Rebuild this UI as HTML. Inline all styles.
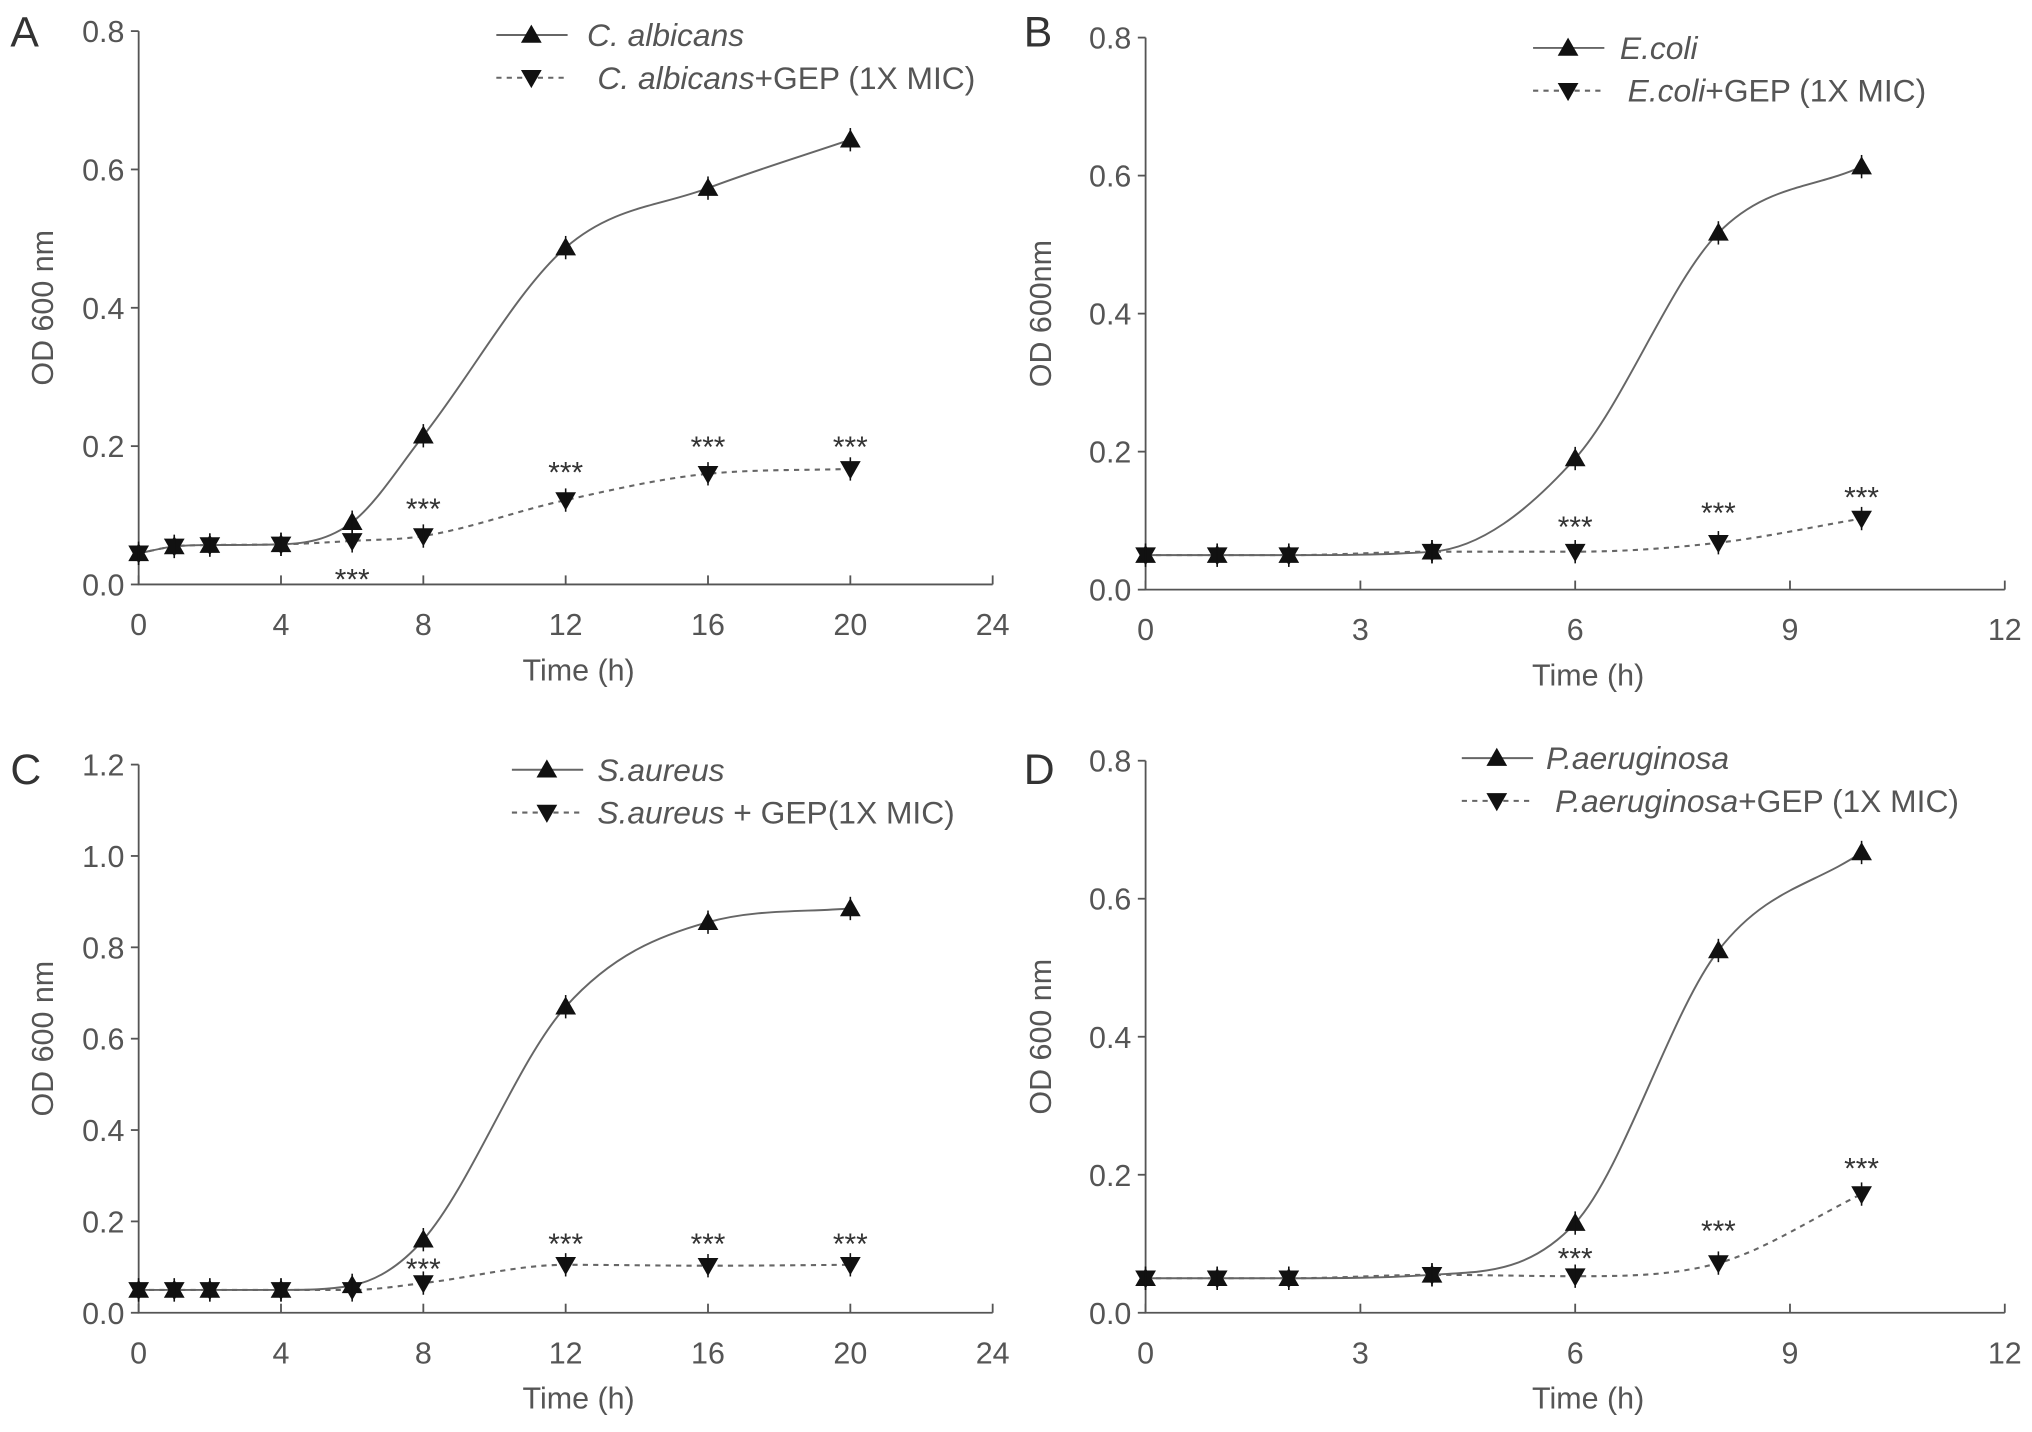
<!DOCTYPE html>
<html><head><meta charset="utf-8"><style>
html,body{margin:0;padding:0;background:#fff}
svg{display:block}
text{font-family:"Liberation Sans",sans-serif;fill:#555}
</style></head><body>
<svg id="fig" width="2032" height="1432" viewBox="0 0 1568 1105" xmlns="http://www.w3.org/2000/svg"></svg>
<script>
// Panel A data
const xA = [0,1,2,4,6,8,12,16,20];
const ctrlA = [0.045,0.055,0.057,0.058,0.09,0.215,0.487,0.573,0.643];
const gepA = [0.045,0.055,0.057,0.058,0.063,0.07,0.122,0.16,0.167];
const starsA = [[6,0.013],[8,0.115],[12,0.168],[16,0.205],[20,0.205]];
// Panel B data
const xB = [0,1,2,4,6,8,10];
const ctrlB = [0.05,0.05,0.05,0.055,0.19,0.517,0.613];
const gepB = [0.05,0.05,0.05,0.055,0.055,0.068,0.103];
const starsB = [[6,0.097],[8,0.117],[10,0.14]];
// Panel C data
const xC = [0,1,2,4,6,8,12,16,20];
const ctrlC = [0.05,0.05,0.05,0.05,0.06,0.16,0.67,0.855,0.885];
const gepC = [0.05,0.05,0.05,0.05,0.05,0.065,0.105,0.103,0.105];
const starsC = [[8,0.105],[12,0.16],[16,0.16],[20,0.16]];
// Panel D data
const xD = [0,1,2,4,6,8,10];
const ctrlD = [0.05,0.05,0.05,0.055,0.13,0.525,0.667];
const gepD = [0.05,0.05,0.05,0.055,0.053,0.072,0.172];
const starsD = [[6,0.085],[8,0.125],[10,0.215]];
// Tick labels
const xTicks24 = [0,4,8,12,16,20,24];
const xTicks12 = [0,3,6,9,12];
const yTicks08 = [0,0.2,0.4,0.6,0.8];
const yTicks12 = [0,0.2,0.4,0.6,0.8,1.0,1.2];

const NS = "http://www.w3.org/2000/svg";
const svg = document.getElementById('fig');
function mk(tag, attrs, parent){
  const e = document.createElementNS(NS, tag);
  for (const k in attrs) e.setAttribute(k, attrs[k]);
  (parent||svg).appendChild(e);
  return e;
}
function monotone(pts){
  const n = pts.length, dx=[], dy=[], m=[], t=[];
  for(let i=0;i<n-1;i++){dx.push(pts[i+1][0]-pts[i][0]); dy.push(pts[i+1][1]-pts[i][1]); m.push(dy[i]/dx[i]);}
  t[0]=m[0]; t[n-1]=m[n-2];
  for(let i=1;i<n-1;i++){ t[i] = (m[i-1]*m[i]<=0)?0:(m[i-1]+m[i])/2; }
  for(let i=0;i<n-1;i++){
    if(m[i]===0){t[i]=0;t[i+1]=0;continue;}
    const a=t[i]/m[i], b=t[i+1]/m[i], s=a*a+b*b;
    if(s>9){const tau=3/Math.sqrt(s); t[i]=tau*a*m[i]; t[i+1]=tau*b*m[i];}
  }
  let d = `M${pts[0][0]},${pts[0][1]}`;
  for(let i=0;i<n-1;i++){
    const h=dx[i];
    d += ` C${pts[i][0]+h/3},${pts[i][1]+t[i]*h/3} ${pts[i+1][0]-h/3},${pts[i+1][1]-t[i+1]*h/3} ${pts[i+1][0]},${pts[i+1][1]}`;
  }
  return d;
}
function tri(g, cx, cy, up, name, eb){
  const s=8;
  const p = up ? `${cx},${cy-s} ${cx-s},${cy+s*0.75} ${cx+s},${cy+s*0.75}` : `${cx},${cy+s} ${cx-s},${cy-s*0.75} ${cx+s},${cy-s*0.75}`;
  const e = mk('polygon',{points:p, fill:'#111'}, g);
  
  
  if(eb){
    const b = mk('line',{x1:cx,x2:cx,y1:cy-9,y2:cy+9,stroke:'#111','stroke-width':1.2}, g);
    
    
  }
}
function panel(cfg){
  const g = mk('g',{});
  
  
  const sx = v => cfg.x0 + (v/cfg.xmax)*(cfg.x1-cfg.x0);
  const sy = v => cfg.y0 - (v/cfg.ymax)*(cfg.y0-cfg.y1);
  const ax = mk('path',{d:`M${cfg.x0},${cfg.y1} L${cfg.x0},${cfg.y0} L${cfg.x1},${cfg.y0}`, fill:'none', stroke:'#555','stroke-width':1.4}, g);
  
  
  cfg.yt.forEach(v=>{
    mk('line',{x1:cfg.x0-6,x2:cfg.x0,y1:sy(v),y2:sy(v),stroke:'#555','stroke-width':1.4},g);
    const t = mk('text',{x:cfg.x0-11,y:sy(v)+8.5,'text-anchor':'end','font-size':23.5},g);
    t.textContent = v.toFixed(1);
    
    
  });
  cfg.xt.forEach(v=>{
    mk('line',{x1:sx(v),x2:sx(v),y1:cfg.y0-7,y2:cfg.y0,stroke:'#555','stroke-width':1.4},g);
    const t = mk('text',{x:sx(v),y:cfg.y0+39,'text-anchor':'middle','font-size':23.5},g);
    t.textContent = v;
    
    
  });
  const xl = mk('text',{x:(cfg.x0+cfg.x1)/2+10,y:cfg.y0+74,'text-anchor':'middle','font-size':23.5},g);
  xl.textContent='Time (h)';
  
  
  const ym=(cfg.y0+cfg.y1)/2;
  const yl = mk('text',{x:cfg.ylx,y:ym,'text-anchor':'middle','font-size':23.5,transform:`rotate(-90 ${cfg.ylx} ${ym})`},g);
  yl.textContent=cfg.ylab;
  
  
  const pl = mk('text',{x:cfg.lx,y:cfg.ly,'font-size':33,style:'fill:#333'},g);
  pl.textContent=cfg.letter;
  
  
  const pc = cfg.xs.map((x,i)=>[sx(x),sy(cfg.ctrl[i])]);
  const pg = cfg.xs.map((x,i)=>[sx(x),sy(cfg.gep[i])]);
  const l1 = mk('path',{d:monotone(pc),fill:'none',stroke:'#666','stroke-width':1.5},g);
  
  
  const l2 = mk('path',{d:monotone(pg),fill:'none',stroke:'#666','stroke-width':1.6,'stroke-dasharray':'4 4'},g);
  
  
  pc.forEach(p=>tri(g,p[0],p[1],true,'control-point',true));
  pg.forEach(p=>tri(g,p[0],p[1],false,'gep-point',true));
  cfg.stars.forEach(s=>{
    const t = mk('text',{x:sx(s[0]),y:sy(s[1])+11,'text-anchor':'middle','font-size':23,style:'fill:#333'},g);
    t.textContent='***';
    
    
  });
  const L = cfg.leg;
  const lg = mk('g',{},g);
  
  
  mk('line',{x1:L.x,x2:L.x+55,y1:L.y,y2:L.y,stroke:'#666','stroke-width':1.5},lg);
  tri(lg,L.x+27,L.y,true,'legend-marker-control',false);
  const t1 = mk('text',{x:L.t1,y:L.y+8.5,'font-size':24.5,'font-style':'italic'},lg);
  t1.textContent=L.n1;
  
  
  mk('line',{x1:L.x,x2:L.x+55,y1:L.y+33,y2:L.y+33,stroke:'#666','stroke-width':1.6,'stroke-dasharray':'4 4'},lg);
  tri(lg,L.x+27,L.y+33,false,'legend-marker-gep',false);
  const t2 = mk('text',{x:L.t2,y:L.y+41.5,'font-size':24.5},lg);
  const ts = mk('tspan',{'font-style':'italic'},t2); ts.textContent=L.n1;
  const ts2 = mk('tspan',{},t2); ts2.textContent=L.n2;
  
  
}
panel({letter:'A',x0:107,x1:766,y0:451,y1:24,xmax:24,ymax:0.8,xt:xTicks24,yt:yTicks08,xs:xA,ctrl:ctrlA,gep:gepA,stars:starsA,ylab:'OD 600 nm',ylx:41,lx:8,ly:36,
  leg:{x:383,y:27,t1:453,t2:461,n1:'C. albicans',n2:'+GEP (1X MIC)'}});
panel({letter:'B',x0:884,x1:1547,y0:455,y1:29,xmax:12,ymax:0.8,xt:xTicks12,yt:yTicks08,xs:xB,ctrl:ctrlB,gep:gepB,stars:starsB,ylab:'OD 600nm',ylx:811,lx:790,ly:36,
  leg:{x:1183,y:37,t1:1250,t2:1256,n1:'E.coli',n2:'+GEP (1X MIC)'}});
panel({letter:'C',x0:107,x1:766,y0:1013,y1:590,xmax:24,ymax:1.2,xt:xTicks24,yt:yTicks12,xs:xC,ctrl:ctrlC,gep:gepC,stars:starsC,ylab:'OD 600 nm',ylx:41,lx:8,ly:605,
  leg:{x:395,y:594,t1:461,t2:461,n1:'S.aureus',n2:' + GEP(1X MIC)'}});
panel({letter:'D',x0:884,x1:1547,y0:1013,y1:587,xmax:12,ymax:0.8,xt:xTicks12,yt:yTicks08,xs:xD,ctrl:ctrlD,gep:gepD,stars:starsD,ylab:'OD 600 nm',ylx:811,lx:790,ly:605,
  leg:{x:1128,y:585,t1:1193,t2:1200,n1:'P.aeruginosa',n2:'+GEP (1X MIC)'}});
</script>
</body></html>
